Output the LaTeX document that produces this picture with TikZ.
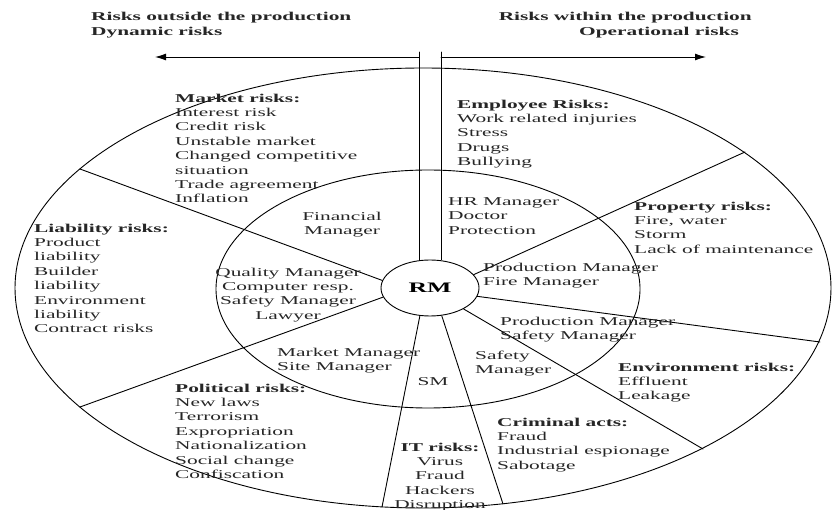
\documentclass[tikz,border=0pt]{standalone}
\usepackage{fontspec}
\setmainfont{Liberation Serif}[FakeStretch=1.78]
\usetikzlibrary{shapes.geometric,arrows.meta}

\tikzset{
  ring/.style={line width=0.9pt},
  divider/.style={line width=0.9pt},
  lbl/.style={inner sep=0pt,anchor=north west,align=left,text=black!85},
  clbl/.style={inner sep=0pt,anchor=north,align=center,text=black!85},
  sidearrow/.style={line width=0.9pt,-{Latex[length=11pt,width=7pt]}}
}

\begin{document}
\begin{tikzpicture}[x=1pt,y=-1pt,line cap=round,line join=round,font=\fontsize{12}{14.4}\selectfont]
  \useasboundingbox (0,0) rectangle (833,510);

  % rings
  \draw[ring] (423,288) ellipse [x radius=408, y radius=220];
  \draw[ring] (428,289) ellipse [x radius=212, y radius=119];

  \node[draw,ellipse,fill=white,line width=0.9pt,minimum width=98pt,minimum height=56pt,inner sep=0pt,
        font=\bfseries\fontsize{14.5}{16}\selectfont] (rm) at (430,288) {RM};

  % sector borders
  \coordinate (o1) at (80,169);
  \coordinate (o2) at (80,407);
  \coordinate (o3) at (382,507);
  \coordinate (o4) at (503,504);
  \coordinate (o5) at (703,449);
  \coordinate (o6) at (820,342);
  \coordinate (o7) at (745,152);
  \draw[divider] (rm.171) -- (o1);
  \draw[divider] (rm.191) -- (o2);
  \draw[divider] (rm.250) -- (o3);
  \draw[divider] (rm.293) -- (o4);
  \draw[divider] (rm.328) -- (o5);
  \draw[divider] (rm.350) -- (o6);
  \draw[divider] (rm.17) -- (o7);

  % split line and arrows
  \coordinate (vl) at (419,52);
  \coordinate (vr) at (441,52);
  \coordinate (al) at (155,57);
  \coordinate (ar) at (706,57);
  \draw[divider] (vl) -- (vl |- rm.north);
  \draw[divider] (vr) -- (vr |- rm.north);
  \draw[sidearrow] (vl |- al) -- (al);
  \draw[sidearrow] (vr |- ar) -- (ar);

  \node[lbl,font=\bfseries\fontsize{12}{15}\selectfont] (outside) at (91,12) {Risks outside the production\\Dynamic risks};
  \node[lbl,anchor=north east,align=right,font=\bfseries\fontsize{12}{15}\selectfont] (within) at (752,12)
    {Risks within the production\\Operational risks\hspace*{13pt}};

  % outer sectors
  \node[lbl] (market) at (175,93.5) {\textbf{Market risks:}\\Interest risk\\Credit risk\\Unstable market\\Changed competitive\\situation\\Trade agreement\\Inflation};
  \node[lbl] (employee) at (457,99.5) {\textbf{Employee Risks:}\\Work related injuries\\Stress\\Drugs\\Bullying};
  \node[lbl] (property) at (634,201.5) {\textbf{Property risks:}\\Fire, water\\Storm\\Lack of maintenance};
  \node[lbl] (liability) at (34,223.5) {\textbf{Liability risks:}\\Product\\liability\\Builder\\liability\\Environment\\liability\\Contract risks};
  \node[lbl] (environment) at (618,362.5) {\textbf{Environment risks:}\\Effluent\\Leakage};
  \node[lbl] (political) at (175,383.5) {\textbf{Political risks:}\\New laws\\Terrorism\\Expropriation\\Nationalization\\Social change\\Confiscation};
  \node[lbl] (criminal) at (497,417.5) {\textbf{Criminal acts:}\\Fraud\\Industrial espionage\\Sabotage};
  \node[clbl] (itrisks) at (440,442.5) {\textbf{IT risks:}\\Virus\\Fraud\\Hackers\\Disruption};

  % inner sectors
  \node[clbl] (financial) at (342,211.5) {Financial\\Manager};
  \node[lbl] (hr) at (448,197.5) {HR Manager\\Doctor\\Protection};
  \node[clbl] (quality) at (288,267.5) {Quality Manager\\Computer resp.\\Safety Manager\\Lawyer};
  \node[lbl] (prodfire) at (483,262.5) {Production Manager\\Fire Manager};
  \node[lbl] (prodsafety) at (500,316.5) {Production Manager\\Safety Manager};
  \node[lbl] (marketmgr) at (277,347.5) {Market Manager\\Site Manager};
  \node[lbl] (safety) at (475,350.5) {Safety\\Manager};
  \node[inner sep=0pt,text=black!85] (sm) at (433,382) {SM};
\end{tikzpicture}
\end{document}
